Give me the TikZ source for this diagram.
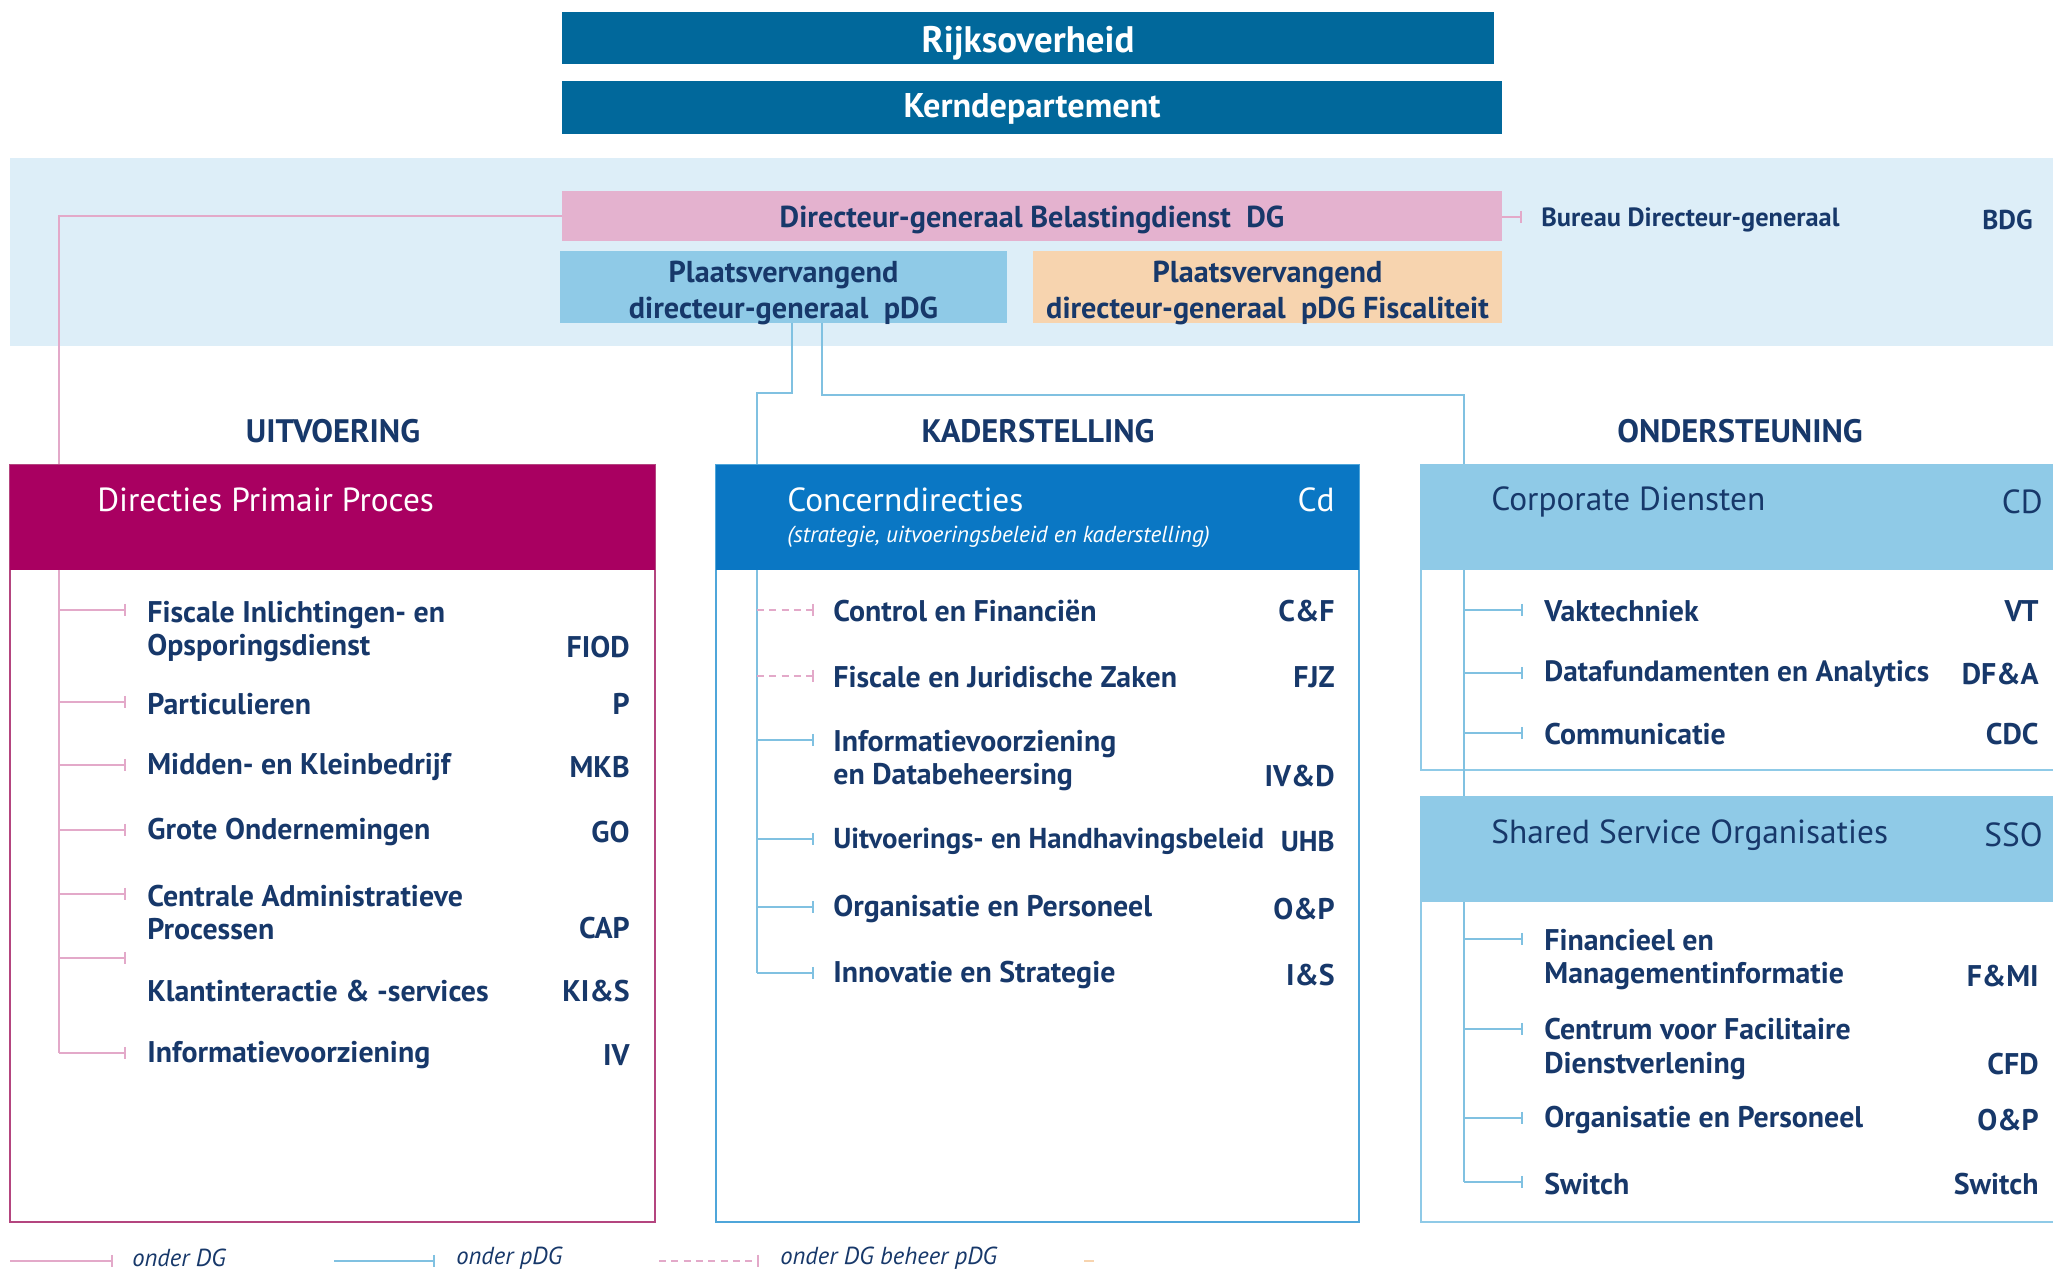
\documentclass[tikz,border=0pt]{standalone}
\usepackage{fontspec}
\setmainfont{PT Sans}
\usetikzlibrary{arrows.meta}
\definecolor{rijk}{HTML}{01689B}
\definecolor{bandblue}{HTML}{DDEEF8}
\definecolor{dgpink}{HTML}{E4B2CF}
\definecolor{pdgblue}{HTML}{8FCAE7}
\definecolor{peach}{HTML}{F7D4AF}
\definecolor{navy}{HTML}{17386A}
\definecolor{dppmag}{HTML}{A90061}
\definecolor{cblue}{HTML}{0A77C4}
\definecolor{lpink}{HTML}{E3A9C9}
\definecolor{lblue}{HTML}{80C1E1}
\definecolor{magborder}{HTML}{B4457F}
\definecolor{cborder}{HTML}{4FA6DA}
\begin{document}
\begin{tikzpicture}[x=0.02cm,y=-0.02cm,
  topbox/.style={fill=rijk, inner sep=0},
  toptxt/.style={text=white, font=\bfseries\fontsize{21}{24}\selectfont, inner sep=0},
  midbox/.style={inner sep=0},
  midtxt/.style={text=navy, font=\bfseries\fontsize{17.2}{20.5}\selectfont, inner sep=0, align=center},
  head/.style={text=navy, font=\bfseries\fontsize{18.5}{22}\selectfont, inner sep=0},
  outerbox/.style={draw=#1, line width=0.9pt, fill=white, inner sep=0},
  hdrfill/.style={fill=#1, inner sep=0},
  htitle/.style={anchor=west, font=\fontsize{19}{22}\selectfont, inner sep=0},
  habbr/.style={anchor=east, font=\fontsize{19}{22}\selectfont, inner sep=0},
  itm/.style={anchor=west, text=navy, font=\bfseries\fontsize{17}{18.8}\selectfont, inner sep=0, align=left},
  abr/.style={anchor=east, text=navy, font=\bfseries\fontsize{17}{18.8}\selectfont, inner sep=0},
  bitm/.style={anchor=west, text=navy, font=\bfseries\fontsize{15}{18}\selectfont, inner sep=0},
  babr/.style={anchor=east, text=navy, font=\bfseries\fontsize{15.5}{18}\selectfont, inner sep=0},
  legtxt/.style={anchor=west, text=navy, font=\itshape\fontsize{14}{17}\selectfont, inner sep=0},
  pline/.style={draw=lpink, line width=1.3pt},
  bline/.style={draw=lblue, line width=1.3pt},
  tickp/.style={pline, -{Bar[width=7pt,line width=0.9pt]}},
  tickb/.style={bline, -{Bar[width=7pt,line width=0.9pt]}},
  tickd/.style={pline, dash pattern=on 4pt off 3pt, -{Bar[width=7pt,line width=0.9pt]}}
]
\clip (0,0) rectangle (2053,1273);
\fill[white] (0,0) rectangle (2053,1273);

% top
\node[topbox, minimum width=18.64cm, minimum height=1.04cm] (rijks) at (1028,38) {};
\node[toptxt] (rijkst) at (1028,43) {Rijksoverheid};
\node[topbox, minimum width=18.8cm, minimum height=1.06cm] (kern) at (1032,107.5) {};
\node[toptxt, font=\bfseries\fontsize{19.5}{22}\selectfont] (kernt) at (1032,108.5) {Kerndepartement};
\node[fill=bandblue, inner sep=0, minimum width=40.86cm, minimum height=3.76cm] (band) at (1031.5,252) {};
\node[midbox, fill=dgpink, minimum width=18.8cm, minimum height=1.0cm] (dg) at (1032,216) {};
\node[midtxt] (dgt) at (1032,220) {Directeur-generaal Belastingdienst~~DG};
\node[midbox, fill=pdgblue, minimum width=8.94cm, minimum height=1.44cm] (pdg) at (783.5,287) {};
\node[midtxt] (pdgt) at (783.5,293) {Plaatsvervangend\\directeur-generaal~~pDG};
\node[midbox, fill=peach, minimum width=9.38cm, minimum height=1.44cm] (pdgf) at (1267.5,287) {};
\node[midtxt] (pdgft) at (1267.5,293) {Plaatsvervangend\\directeur-generaal~~pDG Fiscaliteit};
\coordinate (bdgt) at (1522,217);
\node[bitm] (bdg) at (1541,220) {Bureau Directeur-generaal};
\node[babr] (bdga) at (2033,220) {BDG};
\draw[tickp] (dg.east |- bdgt) -- (bdgt);

% section headings
\node[head] (h1) at (333,431) {UITVOERING};
\node[head] (h2) at (1038,431) {KADERSTELLING};
\node[head] (h3) at (1740,431) {ONDERSTEUNING};

% boxes
\node[outerbox=magborder, minimum width=12.9cm, minimum height=15.14cm] (dpp) at (332.5,843.5) {};
\node[hdrfill=dppmag, minimum width=12.9cm, minimum height=2.1cm] (dpph) at (332.5,517.5) {};
\node[htitle, text=white] (dppt) at (97,500) {Directies Primair Proces};

\node[outerbox=cborder, minimum width=12.86cm, minimum height=15.14cm] (cd) at (1037.5,843.5) {};
\node[hdrfill=cblue, minimum width=12.86cm, minimum height=2.1cm] (cdh) at (1037.5,517.5) {};
\node[htitle, text=white] (cdt) at (787,500) {Concerndirecties};
\node[anchor=west, text=white, inner sep=0, font=\itshape\fontsize{13.2}{16}\selectfont] (cds) at (787,537) {(strategie, uitvoeringsbeleid en kaderstelling)};
\node[habbr, text=white] (cda) at (1335,500) {Cd};

\node[outerbox=pdgblue, minimum width=12.98cm, minimum height=6.1cm] (corp) at (1745.5,617.5) {};
\node[hdrfill=pdgblue, minimum width=12.98cm, minimum height=2.1cm] (corph) at (1745.5,517.5) {};
\node[htitle, text=navy] (corpt) at (1491,502) {Corporate Diensten};
\node[habbr, text=navy] (corpa) at (2043,502) {CD};

\node[outerbox=pdgblue, minimum width=12.98cm, minimum height=8.5cm] (sso) at (1745.5,1009.5) {};
\node[hdrfill=pdgblue, minimum width=12.98cm, minimum height=2.1cm] (ssoh) at (1745.5,849.5) {};
\node[htitle, text=navy] (ssot) at (1491,835) {Shared Service Organisaties};
\node[habbr, text=navy] (ssoa) at (2043,835) {SSO};

% main connectors
\coordinate (pink1) at (59,216);
\draw[pline] (dg.west) -- (pink1) -- (pink1 |- dpp.north);
\coordinate (pa) at (792,323);
\coordinate (pb) at (822,323);
\coordinate (ka) at (757,393);
\coordinate (kb) at (1464,395);
\draw[bline] (pa) |- (ka) -- (ka |- cd.north);
\draw[bline] (pb) |- (kb) -- (kb |- corp.north);
\draw[bline] (kb |- corph.south) -- (kb |- sso.north);

% Directies Primair Proces items
\coordinate (dtr) at (59,570);
\coordinate (dt1) at (126,610);
\coordinate (dt2) at (126,702);
\coordinate (dt3) at (126,765);
\coordinate (dt4) at (126,830);
\coordinate (dt5) at (126,894);
\coordinate (dt6) at (126,958);
\coordinate (dt7) at (126,1053);
\draw[pline] (dtr) -- (dtr |- dt7);
\foreach \t in {dt1,dt2,dt3,dt4,dt5,dt6,dt7} \draw[tickp] (dtr |- \t) -- (\t);
\node[itm] (d1) at (147,632) {Fiscale Inlichtingen- en\\Opsporingsdienst};
\node[abr] (d1a) at (630,647) {FIOD};
\node[itm] (d2) at (147,704) {Particulieren};
\node[abr] (d2a) at (630,704) {P};
\node[itm] (d3) at (147,767) {Midden- en Kleinbedrijf};
\node[abr] (d3a) at (630,767) {MKB};
\node[itm] (d4) at (147,832) {Grote Ondernemingen};
\node[abr] (d4a) at (630,832) {GO};
\node[itm] (d5) at (147,913) {Centrale Administratieve\\Processen};
\node[abr] (d5a) at (630,928) {CAP};
\node[itm] (d6) at (147,991) {Klantinteractie \& -services};
\node[abr] (d6a) at (630,991) {KI\&S};
\node[itm] (d7) at (147,1055) {Informatievoorziening};
\node[abr] (d7a) at (630,1055) {IV};

% Concerndirecties items
\coordinate (ctr) at (757,570);
\coordinate (ct1) at (814,610);
\coordinate (ct2) at (814,676);
\coordinate (ct3) at (814,740);
\coordinate (ct4) at (814,839);
\coordinate (ct5) at (814,907);
\coordinate (ct6) at (814,973);
\draw[bline] (ctr) -- (ctr |- ct6);
\foreach \t in {ct1,ct2} \draw[tickd] (ctr |- \t) -- (\t);
\foreach \t in {ct3,ct4,ct5,ct6} \draw[tickb] (ctr |- \t) -- (\t);
\node[itm] (c1) at (833,611) {Control en Financiën};
\node[abr] (c1a) at (1335,611) {C\&F};
\node[itm] (c2) at (833,677) {Fiscale en Juridische Zaken};
\node[abr] (c2a) at (1335,677) {FJZ};
\node[itm] (c3) at (833,761) {Informatievoorziening\\en Databeheersing};
\node[abr] (c3a) at (1335,776) {IV\&D};
\node[itm, font=\bfseries\fontsize{16.4}{18.8}\selectfont] (c4) at (833,841) {Uitvoerings- en Handhavingsbeleid};
\node[abr, font=\bfseries\fontsize{16.4}{18.8}\selectfont] (c4a) at (1335,841) {UHB};
\node[itm] (c5) at (833,909) {Organisatie en Personeel};
\node[abr] (c5a) at (1335,909) {O\&P};
\node[itm] (c6) at (833,975) {Innovatie en Strategie};
\node[abr] (c6a) at (1335,975) {I\&S};

% Corporate Diensten items
\coordinate (rt1) at (1523,610);
\coordinate (rt2) at (1523,673);
\coordinate (rt3) at (1523,733);
\foreach \t in {rt1,rt2,rt3} \draw[tickb] (kb |- \t) -- (\t);
\node[itm] (r1) at (1544,611) {Vaktechniek};
\node[abr] (r1a) at (2039,611) {VT};
\node[itm, font=\bfseries\fontsize{16.7}{18.8}\selectfont] (r2) at (1544,674) {Datafundamenten en Analytics};
\node[abr] (r2a) at (2039,674) {DF\&A};
\node[itm] (r3) at (1544,734) {Communicatie};
\node[abr] (r3a) at (2039,734) {CDC};

% SSO items
\coordinate (str) at (1464,902);
\coordinate (st1) at (1523,939);
\coordinate (st2) at (1523,1029);
\coordinate (st3) at (1523,1118);
\coordinate (st4) at (1523,1182);
\draw[bline] (str) -- (str |- st4);
\foreach \t in {st1,st2,st3,st4} \draw[tickb] (str |- \t) -- (\t);
\node[itm] (s1) at (1544,960) {Financieel en\\Managementinformatie};
\node[abr] (s1a) at (2039,976) {F\&MI};
\node[itm] (s2) at (1544,1049) {Centrum voor Facilitaire\\Dienstverlening};
\node[abr] (s2a) at (2039,1064) {CFD};
\node[itm] (s3) at (1544,1120) {Organisatie en Personeel};
\node[abr] (s3a) at (2039,1120) {O\&P};
\node[itm] (s4) at (1544,1184) {Switch};
\node[abr] (s4a) at (2039,1184) {Switch};

% legend
\coordinate (l1a) at (10,1261);  \coordinate (l1b) at (113,1261);
\coordinate (l2a) at (334,1261); \coordinate (l2b) at (435,1261);
\coordinate (l3a) at (659,1261); \coordinate (l3b) at (759,1261);
\coordinate (l4a) at (1084,1261); \coordinate (l4b) at (1094,1261);
\draw[tickp] (l1a) -- (l1b);
\node[legtxt] (lt1) at (132,1258) {onder DG};
\draw[tickb] (l2a) -- (l2b);
\node[legtxt] (lt2) at (456,1258) {onder pDG};
\draw[tickd] (l3a) -- (l3b);
\node[legtxt] (lt3) at (780,1258) {onder DG beheer pDG};
\draw[draw=peach, line width=1.3pt] (l4a) -- (l4b);
\end{tikzpicture}
\end{document}
